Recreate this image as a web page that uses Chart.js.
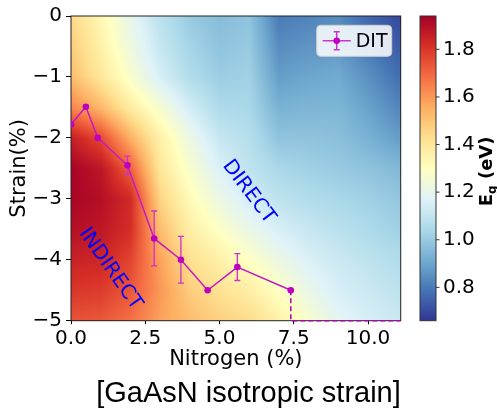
<!DOCTYPE html>
<html>
<head>
<meta charset="utf-8">
<title>GaAsN isotropic strain</title>
<script src="https://cdn.jsdelivr.net/npm/chart.js@4.4.1/dist/chart.umd.min.js"></script>
<style>
    html, body { margin: 0; padding: 0; background: #fff; }
    #wrap { width: 497px; height: 411px; }
</style>
</head>
<body>
<div id="wrap"><canvas id="chart" width="497" height="411"></canvas></div>
<script>
// DIT points: nitrogen (%), strain (%), error on strain
const nitrogen = [0, 0.5, 0.9, 1.9, 2.8, 3.7, 4.6, 5.6, 7.4];
const strain = [-1.78, -1.49, -2.0, -2.45, -3.65, -4.0, -4.5, -4.12, -4.5];
const strainErr = [0, 0, 0, 0.15, 0.45, 0.385, 0, 0.22, 0];

// dashed guide from the last point down to the axis
const guideN = [7.4, 7.4, 11.1];
const guideS = [-4.5, -5, -5];

const xTicks = [0, 2.5, 5, 7.5, 10];
const yTicks = [0, -1, -2, -3, -4, -5];
const cbTicks = [0.8, 1.0, 1.2, 1.4, 1.6, 1.8];
const cbMin = 0.66;
const cbMax = 1.94;

// band gap map (eV), rows follow gridS, columns follow gridN
const gridN = [0, 1, 2, 3, 4, 5, 6, 7, 8, 9, 10, 11];
const gridS = [0, -0.5, -1, -1.5, -2, -2.5, -3, -3.5, -4, -4.5, -5];
const gapMap = [
    [1.45, 1.33, 1.20, 1.08, 1.00, 0.96, 0.98, 0.80, 0.82, 0.84, 0.76, 0.70],
    [1.48, 1.36, 1.23, 1.11, 1.03, 0.98, 1.00, 0.84, 0.86, 0.87, 0.80, 0.74],
    [1.52, 1.40, 1.27, 1.15, 1.06, 1.01, 1.02, 0.88, 0.90, 0.91, 0.85, 0.78],
    [1.64, 1.53, 1.38, 1.26, 1.14, 1.05, 1.04, 0.93, 0.94, 0.94, 0.89, 0.83],
    [1.86, 1.76, 1.55, 1.36, 1.22, 1.11, 1.07, 0.98, 0.98, 0.97, 0.93, 0.88],
    [1.93, 1.88, 1.71, 1.40, 1.27, 1.16, 1.09, 1.04, 1.02, 1.00, 0.98, 0.95],
    [1.93, 1.90, 1.83, 1.46, 1.32, 1.22, 1.14, 1.09, 1.06, 1.04, 1.02, 0.99],
    [1.90, 1.88, 1.82, 1.52, 1.37, 1.29, 1.21, 1.15, 1.11, 1.08, 1.05, 1.02],
    [1.85, 1.84, 1.77, 1.58, 1.43, 1.36, 1.29, 1.22, 1.16, 1.12, 1.09, 1.06],
    [1.80, 1.79, 1.73, 1.60, 1.48, 1.42, 1.37, 1.29, 1.21, 1.15, 1.12, 1.09],
    [1.74, 1.73, 1.68, 1.58, 1.52, 1.47, 1.44, 1.36, 1.27, 1.19, 1.15, 1.12]
];

// RdYlBu_r
const cmap = [
    [49, 54, 149], [69, 117, 180], [116, 173, 209], [171, 217, 233],
    [224, 243, 248], [255, 255, 191], [254, 224, 144], [253, 174, 97],
    [244, 109, 67], [215, 48, 39], [165, 0, 38]
];

const magenta = '#bf00bf';
const tickFont = { family: 'DejaVu Sans', size: 20 };
const titleFont = { family: 'DejaVu Sans', size: 21, lineHeight: 1.2 };

function colorAt(v) {
    let t = (v - cbMin) / (cbMax - cbMin);
    t = Math.max(0, Math.min(1, t)) * (cmap.length - 1);
    const i = Math.min(Math.floor(t), cmap.length - 2);
    const f = t - i;
    const a = cmap[i], b = cmap[i + 1];
    return [a[0] + (b[0] - a[0]) * f, a[1] + (b[1] - a[1]) * f, a[2] + (b[2] - a[2]) * f];
}

// position of v inside an ordered list, as index + fraction
function locate(list, v) {
    const asc = list[list.length - 1] > list[0];
    for (let i = 0; i < list.length - 1; i++) {
        const lo = list[i], hi = list[i + 1];
        const inside = asc ? (v >= lo && v <= hi) : (v <= lo && v >= hi);
        if (inside) return [i, (v - lo) / (hi - lo)];
    }
    const beyond = asc ? v > list[list.length - 1] : v < list[list.length - 1];
    return beyond ? [list.length - 2, 1] : [0, 0];
}

function gapAt(n, s) {
    const [i, fx] = locate(gridN, n);
    const [j, fy] = locate(gridS, s);
    const top = gapMap[j][i] * (1 - fx) + gapMap[j][i + 1] * fx;
    const bot = gapMap[j + 1][i] * (1 - fx) + gapMap[j + 1][i + 1] * fx;
    return top * (1 - fy) + bot * fy;
}

const fmtMinus = v => (v < 0 ? '\u2212' + Math.abs(v) : String(v));

// background map, frame and error bars
const mapPlugin = {
    id: 'mapPlugin',
    beforeDatasetsDraw(chart) {
        const { ctx, chartArea: a, scales: { x, y } } = chart;
        const x0 = Math.round(a.left), y0 = Math.round(a.top);
        const w = Math.round(a.right) - x0, h = Math.round(a.bottom) - y0;
        const img = ctx.createImageData(w, h);
        for (let j = 0; j < h; j++) {
            const s = y.getValueForPixel(y0 + j + 0.5);
            for (let i = 0; i < w; i++) {
                const c = colorAt(gapAt(x.getValueForPixel(x0 + i + 0.5), s));
                const k = (j * w + i) * 4;
                img.data[k] = c[0];
                img.data[k + 1] = c[1];
                img.data[k + 2] = c[2];
                img.data[k + 3] = 255;
            }
        }
        ctx.putImageData(img, x0, y0);

        ctx.save();
        ctx.strokeStyle = '#222';
        ctx.lineWidth = 1;
        ctx.strokeRect(a.left, a.top, a.right - a.left, a.bottom - a.top);

        // error bars
        ctx.strokeStyle = '#cc33cc';
        ctx.lineWidth = 1.3;
        nitrogen.forEach((n, i) => {
            if (!strainErr[i]) return;
            const px = x.getPixelForValue(n);
            const hi = y.getPixelForValue(strain[i] + strainErr[i]);
            const lo = y.getPixelForValue(strain[i] - strainErr[i]);
            ctx.beginPath();
            ctx.moveTo(px, hi); ctx.lineTo(px, lo);
            ctx.moveTo(px - 3, hi); ctx.lineTo(px + 3, hi);
            ctx.moveTo(px - 3, lo); ctx.lineTo(px + 3, lo);
            ctx.stroke();
        });
        ctx.restore();
    }
};

// labels, legend and colour bar
const extrasPlugin = {
    id: 'extrasPlugin',
    afterDraw(chart) {
        const { ctx, chartArea: a, scales: { x, y, cb } } = chart;
        ctx.save();

        // region labels
        ctx.fillStyle = '#0000ff';
        ctx.font = '20px "DejaVu Sans"';
        ctx.textAlign = 'center';
        ctx.textBaseline = 'middle';
        [['DIRECT', 5.98, -2.885, 53], ['INDIRECT', 1.32, -4.15, 55]].forEach(([t, n, s, deg]) => {
            ctx.save();
            ctx.translate(x.getPixelForValue(n), y.getPixelForValue(s));
            ctx.rotate(deg * Math.PI / 180);
            ctx.fillText(t, 0, 0);
            ctx.restore();
        });

        // legend
        const lx = a.right - 84, ly = a.top + 9.3, lw = 75, lh = 31;
        ctx.fillStyle = 'rgba(255,255,255,0.85)';
        ctx.strokeStyle = '#d0d0d0';
        ctx.lineWidth = 1;
        ctx.beginPath();
        ctx.roundRect(lx, ly, lw, lh, 4);
        ctx.fill();
        ctx.stroke();
        const my = ly + lh / 2, mx = lx + 20;
        ctx.strokeStyle = '#cc33cc';
        ctx.lineWidth = 1.5;
        ctx.beginPath();
        ctx.moveTo(lx + 6, my); ctx.lineTo(lx + 34, my);
        ctx.moveTo(mx, my - 9); ctx.lineTo(mx, my + 9);
        ctx.moveTo(mx - 3, my - 9); ctx.lineTo(mx + 3, my - 9);
        ctx.moveTo(mx - 3, my + 9); ctx.lineTo(mx + 3, my + 9);
        ctx.stroke();
        ctx.fillStyle = magenta;
        ctx.beginPath();
        ctx.arc(mx, my, 3.3, 0, Math.PI * 2);
        ctx.fill();
        ctx.fillStyle = '#000';
        ctx.textAlign = 'left';
        ctx.font = '19px "DejaVu Sans"';
        ctx.fillText('DIT', lx + 39, my + 1);

        // colour bar
        const top = cb.getPixelForValue(cbMax), bot = cb.getPixelForValue(cbMin);
        const bx = cb.left + 19.3, bw = 16;
        const grad = ctx.createLinearGradient(0, bot, 0, top);
        cmap.forEach((c, i) => grad.addColorStop(i / (cmap.length - 1), 'rgb(' + c.join(',') + ')'));
        ctx.fillStyle = grad;
        ctx.fillRect(bx, top, bw, bot - top);
        ctx.strokeStyle = '#333';
        ctx.lineWidth = 1;
        ctx.strokeRect(bx, top, bw, bot - top);
        ctx.beginPath();
        cbTicks.forEach(v => {
            const py = cb.getPixelForValue(v);
            ctx.moveTo(bx + bw, py);
            ctx.lineTo(bx + bw + 3.5, py);
        });
        ctx.stroke();

        // colour bar title: E_g (eV)
        ctx.translate(485.5, (top + bot) / 2 + 3);
        ctx.rotate(-Math.PI / 2);
        ctx.fillStyle = '#000';
        ctx.textBaseline = 'alphabetic';
        const big = 'bold 18px "DejaVu Sans"', small = 'bold 12px "DejaVu Sans"';
        ctx.font = big;
        const wE = ctx.measureText('E').width, wR = ctx.measureText(' (eV)').width;
        ctx.font = small;
        const wg = ctx.measureText('g').width;
        let cx = -(wE + wg + wR) / 2;
        ctx.font = big;
        ctx.fillText('E', cx, 6.5);
        cx += wE;
        ctx.font = small;
        ctx.fillText('g', cx, 10);
        cx += wg;
        ctx.font = big;
        ctx.fillText(' (eV)', cx, 6.5);

        ctx.restore();
    }
};

Chart.defaults.color = '#000';
Chart.defaults.font.family = 'DejaVu Sans';

new Chart(document.getElementById('chart'), {
    type: 'scatter',
    data: {
        datasets: [{
            label: 'DIT',
            data: nitrogen.map((n, i) => ({ x: n, y: strain[i] })),
            showLine: true,
            borderColor: '#c21bc2',
            backgroundColor: magenta,
            borderWidth: 1.5,
            pointRadius: 3.3,
            pointBorderWidth: 0,
            clip: 0
        }, {
            label: 'guide',
            data: guideN.map((n, i) => ({ x: n, y: guideS[i] })),
            showLine: true,
            borderColor: '#b000b0',
            borderWidth: 1.5,
            borderDash: [5, 3],
            pointRadius: 0,
            clip: false
        }]
    },
    options: {
        responsive: false,
        devicePixelRatio: 1,
        animation: false,
        layout: { padding: { top: 15.7, left: 0, right: 0, bottom: 0 } },
        plugins: {
            legend: { display: false },
            tooltip: { enabled: false },
            title: {
                display: true,
                position: 'bottom',
                text: '[GaAsN isotropic strain]',
                color: '#000',
                font: { family: 'Liberation Sans', size: 29, weight: 'normal', lineHeight: 1.2 },
                padding: { top: 1, bottom: 0 }
            }
        },
        scales: {
            x: {
                type: 'linear',
                position: 'bottom',
                min: 0,
                max: 11.1,
                afterBuildTicks: s => { s.ticks = xTicks.map(v => ({ value: v })); },
                afterFit: s => { s.height = 54.5; },
                ticks: { font: tickFont, padding: 3, maxRotation: 0, callback: v => v.toFixed(1) },
                grid: { drawOnChartArea: false, drawTicks: true, tickLength: 3.5, color: '#000' },
                border: { display: true, color: '#000' },
                title: { display: true, text: 'Nitrogen (%)', font: titleFont, padding: { top: 0, bottom: 3.1 } }
            },
            y: {
                type: 'linear',
                position: 'left',
                min: -5,
                max: 0,
                afterBuildTicks: s => { s.ticks = yTicks.map(v => ({ value: v })); },
                afterFit: s => { s.width = 71; },
                ticks: { font: tickFont, padding: 4, callback: fmtMinus },
                grid: { drawOnChartArea: false, drawTicks: true, tickLength: 5, color: '#000' },
                border: { display: true, color: '#000' },
                title: { display: true, text: 'Strain(%)', font: titleFont, padding: { top: 6.5, bottom: 0 } }
            },
            cb: {
                type: 'linear',
                position: 'right',
                min: cbMin,
                max: cbMax,
                afterBuildTicks: s => { s.ticks = cbTicks.map(v => ({ value: v })); },
                afterFit: s => {
                    s.width = 96.3;
                    // label padding is only a horizontal offset here
                    s.paddingTop = 0;
                    s.paddingBottom = 0;
                },
                ticks: { font: tickFont, padding: 42.3, callback: v => v.toFixed(1) },
                grid: { display: false, drawTicks: false },
                border: { display: false }
            }
        }
    },
    plugins: [mapPlugin, extrasPlugin]
});
</script>
</body>
</html>
